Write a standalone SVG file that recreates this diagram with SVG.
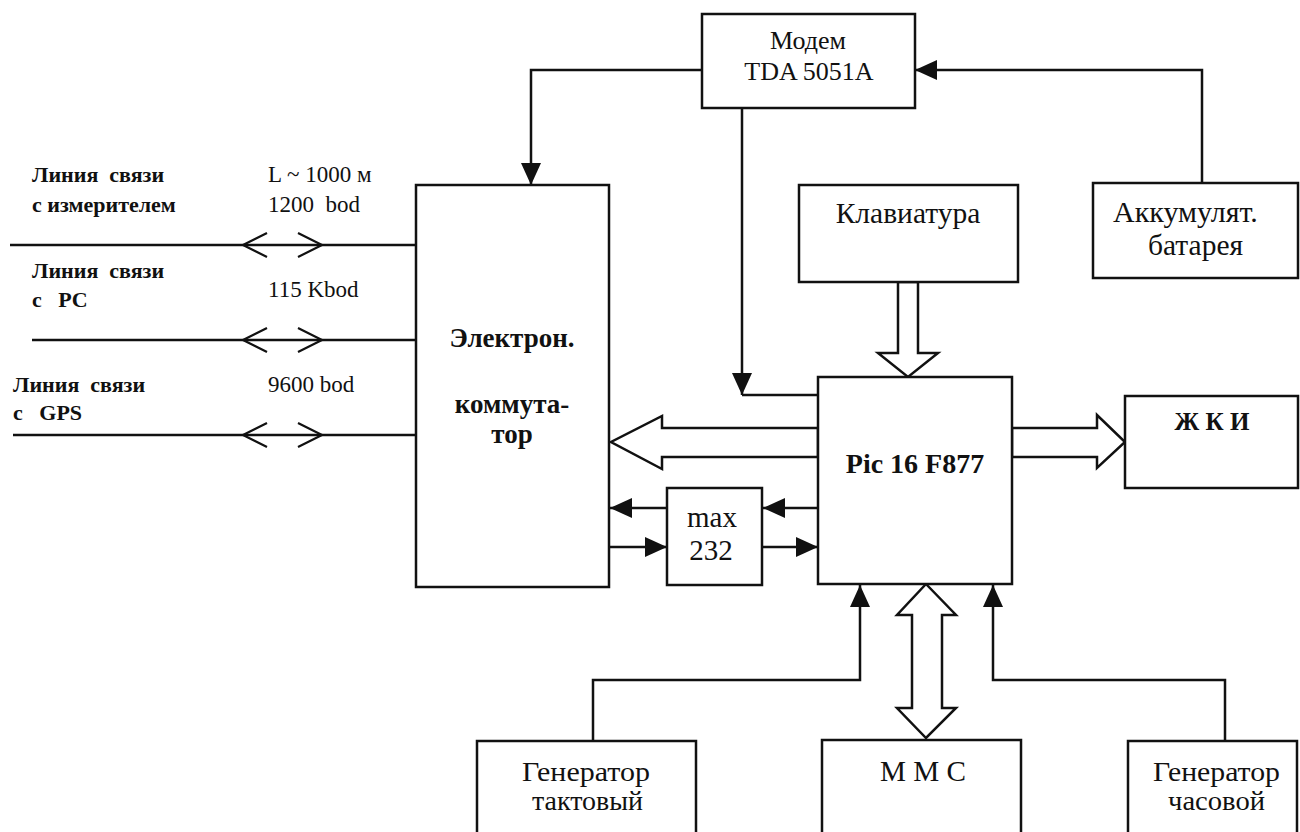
<svg xmlns="http://www.w3.org/2000/svg" width="1300" height="832" viewBox="0 0 1300 832" font-family="'Liberation Serif','DejaVu Serif','Times New Roman',serif">
<style>
  .box{fill:#fff;stroke:#111;stroke-width:2.5}
  .ln{fill:none;stroke:#111;stroke-width:2.5}
  .dot{fill:none;stroke:#111;stroke-width:1.6;stroke-dasharray:2 2}
  .hol{fill:#fff;stroke:#111;stroke-width:2.5;stroke-linejoin:miter}
  .ch{fill:none;stroke:#111;stroke-width:2.2}
  text{font-family:"Liberation Serif","DejaVu Serif","Times New Roman",serif;fill:#111}
  .r{font-weight:normal}
  .b{font-weight:bold}
  .m{text-anchor:middle}
</style>
<defs>
  <marker id="ah" markerUnits="userSpaceOnUse" markerWidth="22" markerHeight="20" viewBox="0 0 22 20" refX="22" refY="10" orient="auto">
    <path d="M0,0 L22,10 L0,20 z" fill="#111"/>
  </marker>
</defs>
<rect width="1300" height="832" fill="#fff"/>

<g id="connectors">
  <line class="ln" x1="10" y1="245" x2="416" y2="245"/>
  <line class="ln" x1="32" y1="340" x2="416" y2="340"/>
  <line class="ln" x1="13" y1="435" x2="416" y2="435"/>
  <path class="ch" d="M267,233 L243,245 L267,257 M298,233 L322,245 L298,257"/>
  <path class="ch" d="M267,328 L243,340 L267,352 M298,328 L322,340 L298,352"/>
  <path class="ch" d="M267,423 L243,435 L267,447 M298,423 L322,435 L298,447"/>
  <path class="dot" d="M416,245 H531 V187"/>
  <path class="ln" d="M702,70 H531 V185" marker-end="url(#ah)"/>
  <path class="ln" d="M1202,183 V70 H915" marker-end="url(#ah)"/>
  <path class="ln" d="M742,108 V395" marker-end="url(#ah)"/>
  <path class="ln" d="M742,395 H819"/>
  <line class="ln" x1="667" y1="508" x2="610" y2="508" marker-end="url(#ah)"/>
  <line class="ln" x1="818" y1="508" x2="763" y2="508" marker-end="url(#ah)"/>
  <line class="ln" x1="609" y1="547" x2="667" y2="547" marker-end="url(#ah)"/>
  <line class="ln" x1="762" y1="547" x2="818" y2="547" marker-end="url(#ah)"/>
  <path class="ln" d="M593,741 V680 H860 V585" marker-end="url(#ah)"/>
  <path class="ln" d="M1225,741 V680 H993 V585" marker-end="url(#ah)"/>
  <polygon class="hol" points="898,282 898,353 878,353 908,377 938,353 918,353 918,282"/>
  <polygon class="hol" points="818,428 662,428 662,416 611,442 662,469 662,457 818,457"/>
  <polygon class="hol" points="1012,428 1097,428 1097,415 1125,442 1097,468 1097,457 1012,457"/>
  <polygon class="hol" points="926,584 956,615 942,615 942,708 956,708 926,738 897,708 912,708 912,615 897,615"/>
</g>

<g id="labels">
  <text class="b" x="32" y="182" font-size="22" xml:space="preserve">Линия  связи</text>
  <text class="b" x="32" y="212" font-size="22">с измерителем</text>
  <text class="b" x="32" y="278" font-size="22" xml:space="preserve">Линия  связи</text>
  <text class="b" x="32" y="307" font-size="22" xml:space="preserve">с   PC</text>
  <text class="b" x="13" y="392" font-size="22" xml:space="preserve">Линия  связи</text>
  <text class="b" x="13" y="420" font-size="22" xml:space="preserve">с   GPS</text>
  <text class="r" x="268" y="182" font-size="23">L ~ 1000 м</text>
  <text class="r" x="268" y="212" font-size="23" xml:space="preserve">1200  bod</text>
  <text class="r" x="268" y="297" font-size="23">115 Kbod</text>
  <text class="r" x="268" y="392" font-size="23">9600 bod</text>
</g>

<g id="modem">
  <rect class="box" x="702" y="14" width="213" height="94"/>
  <text class="r m" x="808" y="49" font-size="26">Модем</text>
  <text class="r m" x="809" y="80" font-size="26">TDA 5051A</text>
</g>

<g id="commutator">
  <rect class="box" x="416" y="185" width="193" height="402"/>
  <text class="b m" x="512" y="347" font-size="27">Электрон.</text>
  <text class="b m" x="512" y="413" font-size="27">коммута-</text>
  <text class="b m" x="512" y="443" font-size="27">тор</text>
</g>

<g id="keyboard">
  <rect class="box" x="799" y="185" width="219" height="97"/>
  <text class="r m" x="908" y="223" font-size="29.5">Клавиатура</text>
</g>

<g id="battery">
  <rect class="box" x="1093" y="183" width="205" height="95"/>
  <text class="r" x="1113" y="222" font-size="30">Аккумулят.</text>
  <text class="r" x="1148" y="255" font-size="29.5">батарея</text>
</g>

<g id="pic">
  <rect class="box" x="818" y="377" width="194" height="207"/>
  <text class="b m" x="915" y="473" font-size="28">Pic 16 F877</text>
</g>

<g id="lcd">
  <rect class="box" x="1125" y="396" width="173" height="92"/>
  <text class="b m" x="1212" y="430" font-size="25" xml:space="preserve">Ж К И</text>
</g>

<g id="max232">
  <rect class="box" x="667" y="488" width="95" height="97"/>
  <text class="r m" x="712" y="527" font-size="29">max</text>
  <text class="r m" x="711" y="560" font-size="29">232</text>
</g>

<g id="gen-clock">
  <rect class="box" x="477" y="741" width="219" height="110"/>
  <text class="r" x="522" y="781" font-size="28" textLength="128" lengthAdjust="spacingAndGlyphs">Генератор</text>
  <text class="r" x="532" y="810" font-size="28" textLength="111" lengthAdjust="spacingAndGlyphs">тактовый</text>
</g>

<g id="mmc">
  <rect class="box" x="822" y="740" width="199" height="110"/>
  <text class="r" x="880" y="781" font-size="29" textLength="86" lengthAdjust="spacingAndGlyphs" xml:space="preserve">М М С</text>
</g>

<g id="gen-time">
  <rect class="box" x="1128" y="741" width="169" height="110"/>
  <text class="r" x="1153" y="781" font-size="28" textLength="127" lengthAdjust="spacingAndGlyphs">Генератор</text>
  <text class="r" x="1168" y="810" font-size="28" textLength="97" lengthAdjust="spacingAndGlyphs">часовой</text>
</g>
</svg>
